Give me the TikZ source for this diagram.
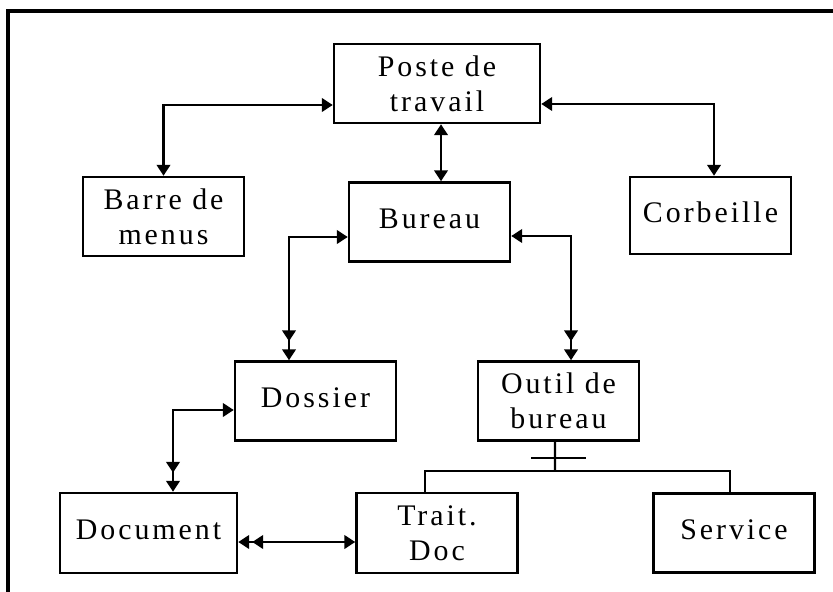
\documentclass[tikz,border=0pt]{standalone}
\usepackage{fontspec}
\usetikzlibrary{positioning}
\usetikzlibrary{calc}
\usetikzlibrary{arrows.meta}
\usetikzlibrary{decorations.markings}
\newfontfamily\boxfont[LetterSpace=10]{Liberation Serif}
\tikzset{box/.style={draw, line width=1.4pt, minimum width=3.22cm, minimum height=1.58cm, align=center, inner sep=0pt, font=\boxfont\fontsize{17}{20}\selectfont},
single/.style={text depth=1.4mm},
link/.style={line width=1.5pt, {Triangle[length=2.2mm,width=2.7mm]}-{Triangle[length=2.2mm,width=2.7mm]}},
dbl/.style={postaction={decorate,decoration={markings,mark=at position #1 with {\arrow{Triangle[length=2.2mm,width=2.7mm]}}}}}}

\begin{document}
\begin{tikzpicture}
\useasboundingbox (0,0) rectangle (16.66,-11.84);
\draw[line width=2pt] (16.66,-0.22) -- (0.16,-0.22) -- (0.16,-11.84);
\node (poste) at (8.74,-1.67) [box, minimum width=4.12cm] {Poste de\\travail};
\node (barre) at (3.27,-4.33) [box] {Barre de\\menus};
\node (bureau) at (8.59,-4.44) [box, single] {Bureau};
\node (corb) at (14.21,-4.31) [box, single, minimum height=1.54cm] {Corbeille};
\node (dossier) at (6.31,-8.02) [box, single] {Dossier};
\node (outil) [right of=dossier, node distance=4.86cm, box] {Outil de\\bureau};
\node (document) at (2.97,-10.66) [box, single, minimum width=3.54cm, minimum height=1.6cm] {Document};
\node (trait) [right of=document, node distance=5.77cm, box, minimum height=1.6cm] {Trait.\\Doc};
\node (service) [right of=trait, node distance=5.94cm, box, single] {Service};
\coordinate (fork) at (11.1,-9.42);
% liens avec fleches
\draw[link] ([yshift=-4.3mm]poste.west) -| (barre.north);
\draw[link] ([yshift=-4.1mm]poste.east) -| ([xshift=0.7mm]corb.north);
\draw[link] ([xshift=0.8mm]poste.south) -- ([xshift=0.8mm]poste.south |- bureau.north);
\draw[link, dbl=-3.8mm] ([yshift=-3mm]bureau.west) -| ([xshift=-5.3mm]dossier.north);
\draw[link, dbl=-3.8mm] ([yshift=-2.8mm]bureau.east) -| ([xshift=2.5mm]outil.north);
\draw[link, dbl=-3.8mm] ([yshift=-1.8mm]dossier.west) -| ([xshift=4.9mm]document.north);
\draw[link, dbl=-2.8mm] ([yshift=-1.8mm]trait.west) -- ([yshift=-1.8mm]trait.west -| document.east);
% arbre sous outil de bureau
\draw[line width=1.4pt] ([xshift=-0.7mm]outil.south) -- (fork);
\draw[line width=1.4pt] (fork) -| ([xshift=-2.4mm]trait.north);
\draw[line width=1.4pt] (fork) -| ([xshift=-0.8mm]service.north);
\draw[line width=1.4pt] ($(fork)+(-0.48,0.26)$) -- ($(fork)+(0.62,0.26)$);
\end{tikzpicture}
\end{document}
